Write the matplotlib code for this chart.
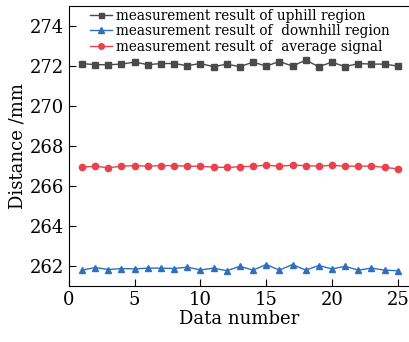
import matplotlib
matplotlib.use("Agg")
import matplotlib.pyplot as plt

# data
data_number = list(range(1, 26))
uphill = [272.13, 272.07, 272.07, 272.10, 272.20, 272.07, 272.13, 272.13, 272.02, 272.13,
          271.97, 272.10, 271.97, 272.20, 272.00, 272.23, 272.00, 272.30, 271.97, 272.20,
          271.97, 272.13, 272.10, 272.10, 272.00]
downhill = [261.79, 261.92, 261.82, 261.87, 261.85, 261.89, 261.89, 261.87, 261.94, 261.80,
            261.89, 261.76, 261.98, 261.79, 262.07, 261.79, 262.07, 261.79, 262.02, 261.85,
            261.98, 261.79, 261.89, 261.79, 261.76]
average = [266.94, 266.99, 266.91, 266.99, 267.02, 266.99, 267.02, 267.02, 266.99, 266.99,
           266.94, 266.93, 266.96, 266.99, 267.04, 266.99, 267.04, 267.02, 266.99, 267.04,
           266.99, 266.99, 267.00, 266.93, 266.86]
labels = ["measurement result of uphill region",
          "measurement result of  downhill region",
          "measurement result of  average signal"]
x_ticks = [0, 5, 10, 15, 20, 25]
y_ticks = [262, 264, 266, 268, 270, 272, 274]

plt.rcParams["font.family"] = ["DejaVu Serif"]

fig = plt.figure(figsize=(4.10, 3.42), dpi=100)
ax = fig.add_axes([0.168, 0.164, 0.831, 0.818])

ax.plot(data_number, uphill, "-s", color="#4a4a4a", lw=1.0, ms=4, label=labels[0])
ax.plot(data_number, downhill, "-^", color="#2f6fc0", lw=1.0, ms=5, label=labels[1])
ax.plot(data_number, average, "-o", color="#e8434c", lw=1.0, ms=4.5, label=labels[2])

ax.set_xlim(0, 25.9)
ax.set_ylim(261, 275)
ax.set_xticks(x_ticks)
ax.set_yticks(y_ticks)
ax.tick_params(direction="in", labelsize=13, length=5, top=False, right=False)
ax.set_xlabel("Data number", fontsize=13, labelpad=1)
ax.set_ylabel("Distance /mm", fontsize=13, labelpad=2)

ax.legend(loc="upper left", frameon=False, fontsize=9.8, handlelength=1.6,
          handletextpad=0.3, labelspacing=0.1, borderaxespad=0.0,
          bbox_to_anchor=(0.047, 1.01), markerscale=0.9)

fig.savefig("out.png", dpi=100)
